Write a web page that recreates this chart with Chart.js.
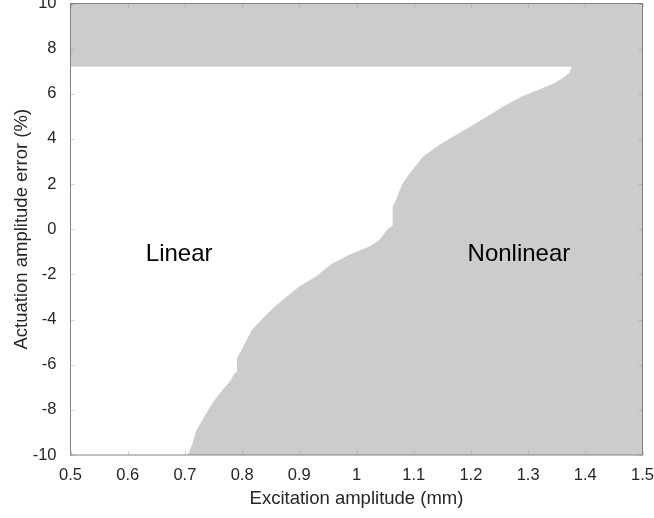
<!DOCTYPE html>
<html>
<head>
<meta charset="utf-8">
<script src="https://cdn.jsdelivr.net/npm/chart.js@4"></script>
<style>
  body { margin: 0; background: #fff; }
</style>
</head>
<body>
<canvas id="chart" width="654" height="518"></canvas>
<script>
// boundary between linear and nonlinear regions
const boundaryX = [0.706, 0.714, 0.721, 0.735, 0.749, 0.764, 0.779, 0.788, 0.792, 0.792, 0.800, 0.809, 0.817, 0.837, 0.855, 0.872, 0.901, 0.930, 0.957, 0.985, 1.024, 1.041, 1.055, 1.064, 1.064, 1.070, 1.076, 1.082, 1.094, 1.117, 1.146, 1.175, 1.204, 1.230, 1.259, 1.288, 1.318, 1.346, 1.363, 1.373, 1.377, 1.377, 1.5]
const boundaryY = [-10, -9.5, -8.9, -8.3, -7.7, -7.2, -6.76, -6.37, -6.37, -5.7, -5.35, -4.9, -4.5, -3.94, -3.5, -3.13, -2.54, -2.1, -1.55, -1.18, -0.77, -0.48, 0.0, 0.15, 1.0, 1.3, 1.7, 2.04, 2.48, 3.21, 3.73, 4.17, 4.6, 5.0, 5.45, 5.85, 6.15, 6.45, 6.72, 6.92, 7.2, 10, 10]

// upper band (error above limit)
const bandX = [0.5, 1.377]
const bandY = [7.2, 7.2]

const regionNames = ['Linear', 'Nonlinear']

const xTicks = [0.5, 0.6, 0.7, 0.8, 0.9, 1, 1.1, 1.2, 1.3, 1.4, 1.5]
const yTicks = [-10, -8, -6, -4, -2, 0, 2, 4, 6, 8, 10]

const gray = '#cccccc'
const font = 'Liberation Sans, Arial, sans-serif'

function toPoints(xs, ys) {
    let pts = []
    for (let i = 0; i < xs.length; i++) pts.push({x: xs[i], y: ys[i]})
    return pts
}

const regionLabels = {
    id: 'regionLabels',
    afterDatasetsDraw(chart) {
        const ctx = chart.ctx
        const xs = chart.scales.x, ys = chart.scales.y
        const at = [[0.690, -1.1], [1.284, -1.1]]
        ctx.save()
        ctx.font = '24px ' + font
        ctx.fillStyle = '#000'
        ctx.textAlign = 'center'
        ctx.textBaseline = 'middle'
        regionNames.forEach((name, i) => {
            ctx.fillText(name, xs.getPixelForValue(at[i][0]), ys.getPixelForValue(at[i][1]))
        })
        ctx.restore()
    }
}

const frame = {
    id: 'frame',
    afterDraw(chart) {
        const a = chart.chartArea
        const ctx = chart.ctx
        ctx.save()
        // small inward ticks
        ctx.beginPath()
        for (const v of xTicks) {
            const px = Math.round(chart.scales.x.getPixelForValue(v)) + 0.5
            ctx.moveTo(px, a.bottom); ctx.lineTo(px, a.bottom - 4)
            ctx.moveTo(px, a.top); ctx.lineTo(px, a.top + 4)
        }
        for (const v of yTicks) {
            const py = Math.round(chart.scales.y.getPixelForValue(v)) + 0.5
            ctx.moveTo(a.left, py); ctx.lineTo(a.left + 4, py)
            ctx.moveTo(a.right, py); ctx.lineTo(a.right - 4, py)
        }
        ctx.strokeStyle = 'rgba(128,128,128,0.35)'
        ctx.lineWidth = 1
        ctx.stroke()
        ctx.strokeStyle = '#808080'
        ctx.strokeRect(a.left, a.top, a.right - a.left, a.bottom - a.top)
        ctx.restore()
    }
}

new Chart(document.getElementById('chart'), {
    type: 'scatter',
    data: {
        datasets: [{
            label: 'band',
            data: toPoints(bandX, bandY),
            showLine: true,
            fill: 'end',
            backgroundColor: gray,
            borderWidth: 0,
            pointRadius: 0
        }, {
            label: 'nonlinear',
            data: toPoints(boundaryX, boundaryY),
            showLine: true,
            fill: 'start',
            backgroundColor: gray,
            borderColor: gray,
            borderWidth: 1,
            pointRadius: 0
        }]
    },
    options: {
        responsive: false,
        animation: false,
        layout: {padding: {top: 3.5, right: 11.5, left: 0, bottom: 0}},
        plugins: {
            legend: {display: false},
            tooltip: {enabled: false}
        },
        scales: {
            x: {
                type: 'linear',
                min: 0.5, max: 1.5,
                afterBuildTicks: (scale) => { scale.ticks = xTicks.map(v => ({value: v})) },
                afterFit: (scale) => {
                    scale.height = 63
                    scale.paddingLeft = 0
                    scale.paddingRight = 0
                },
                grid: {display: false, drawTicks: false},
                border: {display: false},
                ticks: {
                    padding: 11,
                    color: '#262626',
                    font: {family: font, size: 16.5},
                    maxRotation: 0,
                    callback: (v) => String(+v.toFixed(2))
                },
                title: {
                    display: true,
                    text: 'Excitation amplitude (mm)',
                    color: '#262626',
                    font: {family: font, size: 18.5},
                    padding: {top: 0, bottom: 8}
                }
            },
            y: {
                type: 'linear',
                min: -10, max: 10,
                afterBuildTicks: (scale) => { scale.ticks = yTicks.map(v => ({value: v})) },
                afterFit: (scale) => {
                    scale.width = 70.5
                    scale.paddingTop = 0
                    scale.paddingBottom = 0
                },
                grid: {display: false, drawTicks: false},
                border: {display: false},
                ticks: {
                    padding: 14,
                    color: '#262626',
                    font: {family: font, size: 16.5},
                    callback: (v) => String(v)
                },
                title: {
                    display: true,
                    text: 'Actuation amplitude error (%)',
                    color: '#262626',
                    font: {family: font, size: 18.5},
                    padding: {top: 11, bottom: 0}
                }
            }
        }
    },
    plugins: [regionLabels, frame]
})
</script>
</body>
</html>
